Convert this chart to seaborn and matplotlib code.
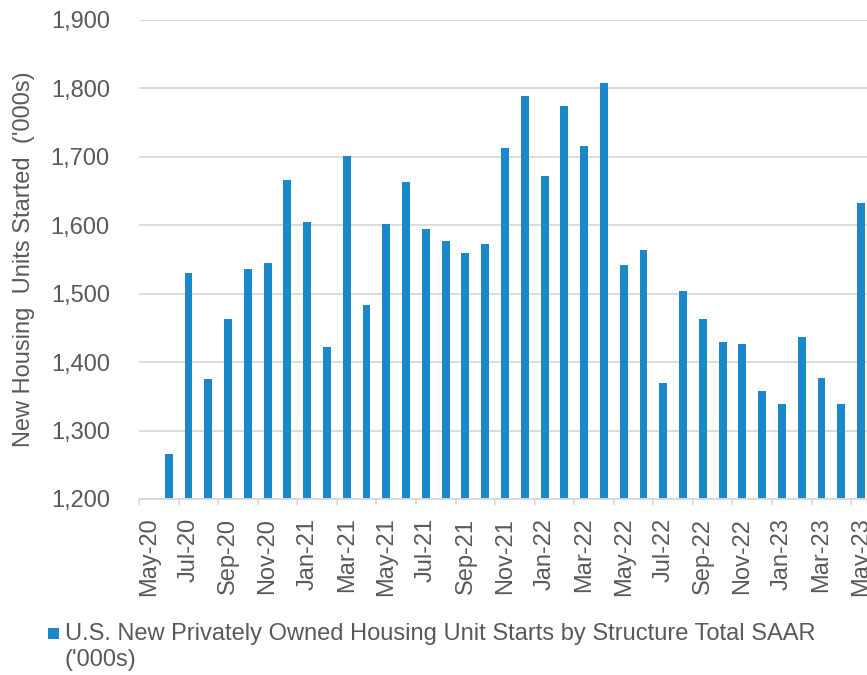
import numpy as np
import pandas as pd
import matplotlib
matplotlib.use("Agg")
import matplotlib.pyplot as plt
from matplotlib.patches import Rectangle
import seaborn as sns

# Monthly housing starts, May 2020 - May 2023 (thousands, SAAR)
months = [
    "May-20", "Jun-20", "Jul-20", "Aug-20", "Sep-20", "Oct-20", "Nov-20", "Dec-20",
    "Jan-21", "Feb-21", "Mar-21", "Apr-21", "May-21", "Jun-21", "Jul-21", "Aug-21",
    "Sep-21", "Oct-21", "Nov-21", "Dec-21", "Jan-22", "Feb-22", "Mar-22", "Apr-22",
    "May-22", "Jun-22", "Jul-22", "Aug-22", "Sep-22", "Oct-22", "Nov-22", "Dec-22",
    "Jan-23", "Feb-23", "Mar-23", "Apr-23", "May-23",
]
# May-20 sits below the 1,200 axis floor, so it has no visible bar
starts = [
    np.nan, 1265, 1530, 1375, 1463, 1536, 1545, 1666,
    1604, 1422, 1701, 1483, 1601, 1663, 1595, 1577,
    1560, 1572, 1713, 1789, 1672, 1774, 1716, 1807,
    1542, 1563, 1369, 1504, 1463, 1430, 1427, 1357,
    1339, 1436, 1377, 1339, 1633,
]
y_ticks = [1200, 1300, 1400, 1500, 1600, 1700, 1800, 1900]

series_name = "U.S. New Privately Owned Housing Unit Starts by Structure Total SAAR"
y_title = "New Housing  Units Started  ('000s)"

BLUE = "#1B88CA"
GRID = "#D9D9D9"
TEXT = "#595959"
FS = 17

sns.set_theme(style="white")
plt.rcParams["font.family"] = ["Liberation Sans", "DejaVu Sans"]

W, H = 867, 675
fig = plt.figure(figsize=(W / 100, H / 100), dpi=100)

# plot area in pixel terms
left_px, right_px, top_px, bottom_px = 139, 867, 19.7, 499
ax = fig.add_axes([left_px / W, 1 - bottom_px / H,
                   (right_px - left_px) / W, (bottom_px - top_px) / H])

df = pd.DataFrame({"month": months, "starts": starts})
sns.barplot(data=df, x="month", y="starts", order=months, color=BLUE,
            saturation=1, width=0.4, ax=ax, errorbar=None)
for p in ax.patches:
    p.set_edgecolor("none")

ax.set_ylim(1200, 1900)
ax.set_xlim(-0.5, 36.3)
ax.set_yticks(y_ticks)
ax.set_yticklabels([f"{v:,}" for v in y_ticks])
ax.tick_params(axis="y", length=0, pad=21, labelsize=FS, labelcolor=TEXT)

ax.set_xticks(range(0, len(months), 2))
ax.set_xticklabels(months[::2], rotation=90)
ax.set_xticks(np.arange(-0.5, len(months), 2), minor=True)
ax.tick_params(axis="x", which="major", length=0, pad=13.5, labelsize=FS,
               labelcolor=TEXT)
ax.tick_params(axis="x", which="minor", bottom=True, length=4.5, width=1.2,
               color=GRID)

ax.yaxis.grid(True, color=GRID, linewidth=1.3)
ax.xaxis.grid(False)
ax.set_axisbelow(True)
for side in ("top", "right", "left"):
    ax.spines[side].set_visible(False)
ax.spines["bottom"].set_color(GRID)
ax.spines["bottom"].set_linewidth(1.3)

ax.set_xlabel("")
ax.set_ylabel(y_title, fontsize=FS, color=TEXT, va="center")
ax.yaxis.set_label_coords((24 - left_px) / (right_px - left_px), 0.5)

# legend: square swatch next to a two-line label
fig.patches.append(Rectangle((48 / W, 1 - 639 / H), 11 / W, 11 / H,
                             transform=fig.transFigure, facecolor=BLUE,
                             edgecolor="none"))
fig.text(65 / W, 1 - 623 / H, series_name + "\n('000s)", fontsize=FS,
         color=TEXT, ha="left", va="top", linespacing=1.25)

fig.savefig("out.png", dpi=100)
